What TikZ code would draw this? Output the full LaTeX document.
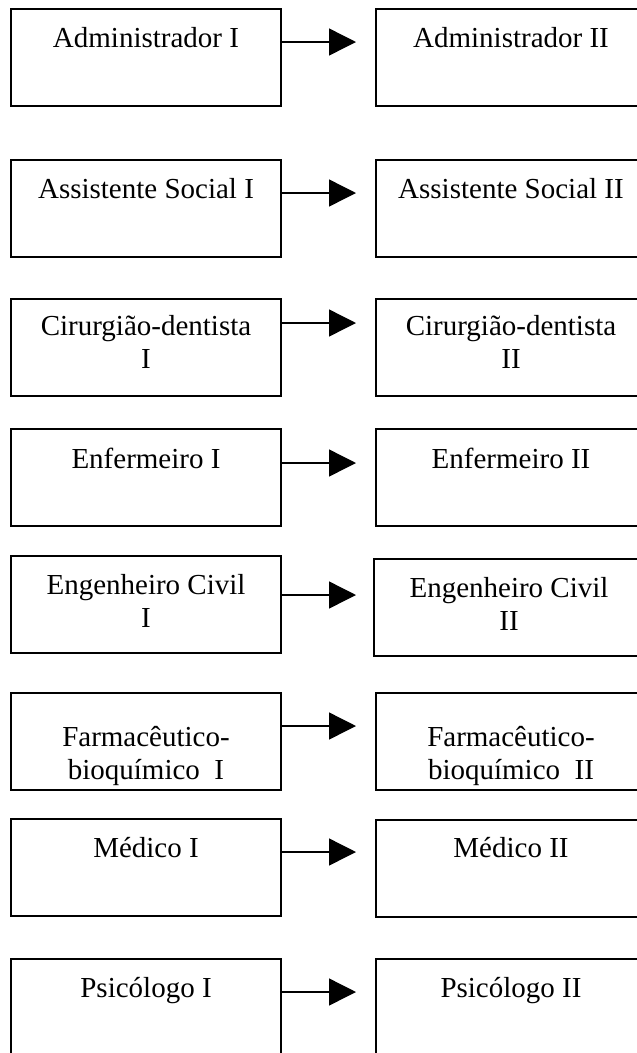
\documentclass[tikz,border=0pt]{standalone}
\usepackage{fontspec}
\setmainfont{Liberation Serif}
\usetikzlibrary{arrows.meta}
\tikzset{
  box/.style={draw=black, line width=1.4pt, minimum width=270pt, minimum height=97pt,
    inner sep=0pt, outer sep=0pt, anchor=north west},
  txt/.style={font=\fontsize{29}{33}\selectfont, align=center, inner sep=0pt, anchor=base},
  arr/.style={line width=1.4pt, -{Triangle[length=27pt,width=27pt]}, shorten >=20pt}
}
\begin{document}
\begin{tikzpicture}[x=1pt,y=1pt]
\useasboundingbox (0,0) rectangle (637,-1053);
\clip (0,0) rectangle (637,-1053);
% boxes
\node[box] (l1) at (11,-9) {};   \node[box] (r1) at (376,-9) {};
\node[box] (l2) at (11,-160) {}; \node[box] (r2) at (376,-160) {};
\node[box] (l3) at (11,-299) {}; \node[box] (r3) at (376,-299) {};
\node[box] (l4) at (11,-429) {}; \node[box] (r4) at (376,-429) {};
\node[box] (l5) at (11,-556) {}; \node[box] (r5) at (374,-559) {};
\node[box] (l6) at (11,-693) {}; \node[box] (r6) at (376,-693) {};
\node[box] (l7) at (11,-819) {}; \node[box] (r7) at (376,-820) {};
\node[box] (l8) at (11,-959) {}; \node[box] (r8) at (376,-959) {};
% texts (multi-line: anchor base = last line)
\node[txt] (tl1) at (146,-47) {Administrador I};
\node[txt] (tr1) at (511,-47) {Administrador II};
\node[txt] (tl2) at (146,-198) {Assistente Social I};
\node[txt] (tr2) at (511,-198) {Assistente Social II};
\node[txt] (tl3) at (146,-368) {Cirurgião-dentista\\I};
\node[txt] (tr3) at (511,-368) {Cirurgião-dentista\\II};
\node[txt] (tl4) at (146,-468) {Enfermeiro I};
\node[txt] (tr4) at (511,-468) {Enfermeiro II};
\node[txt] (tl5) at (146,-627) {Engenheiro Civil\\I};
\node[txt] (tr5) at (509,-630) {Engenheiro Civil\\II};
\node[txt] (tl6) at (146,-779) {Farmacêutico-\\bioquímico\ \ I};
\node[txt] (tr6) at (511,-779) {Farmacêutico-\\bioquímico\ \ II};
\node[txt] (tl7) at (146,-857) {Médico I};
\node[txt] (tr7) at (511,-857) {Médico II};
\node[txt] (tl8) at (146,-997) {Psicólogo I};
\node[txt] (tr8) at (511,-997) {Psicólogo II};
% arrows
\coordinate (y1) at (0,-42);
\coordinate (y2) at (0,-193);
\coordinate (y3) at (0,-323);
\coordinate (y4) at (0,-463);
\coordinate (y5) at (0,-595);
\coordinate (y6) at (0,-726);
\coordinate (y7) at (0,-852);
\coordinate (y8) at (0,-992);
\draw[arr] (l1.east |- y1) -- (r1.west |- y1);
\draw[arr] (l2.east |- y2) -- (r2.west |- y2);
\draw[arr] (l3.east |- y3) -- (r3.west |- y3);
\draw[arr] (l4.east |- y4) -- (r4.west |- y4);
\draw[arr, shorten >=18pt] (l5.east |- y5) -- (r5.west |- y5);
\draw[arr] (l6.east |- y6) -- (r6.west |- y6);
\draw[arr] (l7.east |- y7) -- (r7.west |- y7);
\draw[arr] (l8.east |- y8) -- (r8.west |- y8);
\end{tikzpicture}
\end{document}
